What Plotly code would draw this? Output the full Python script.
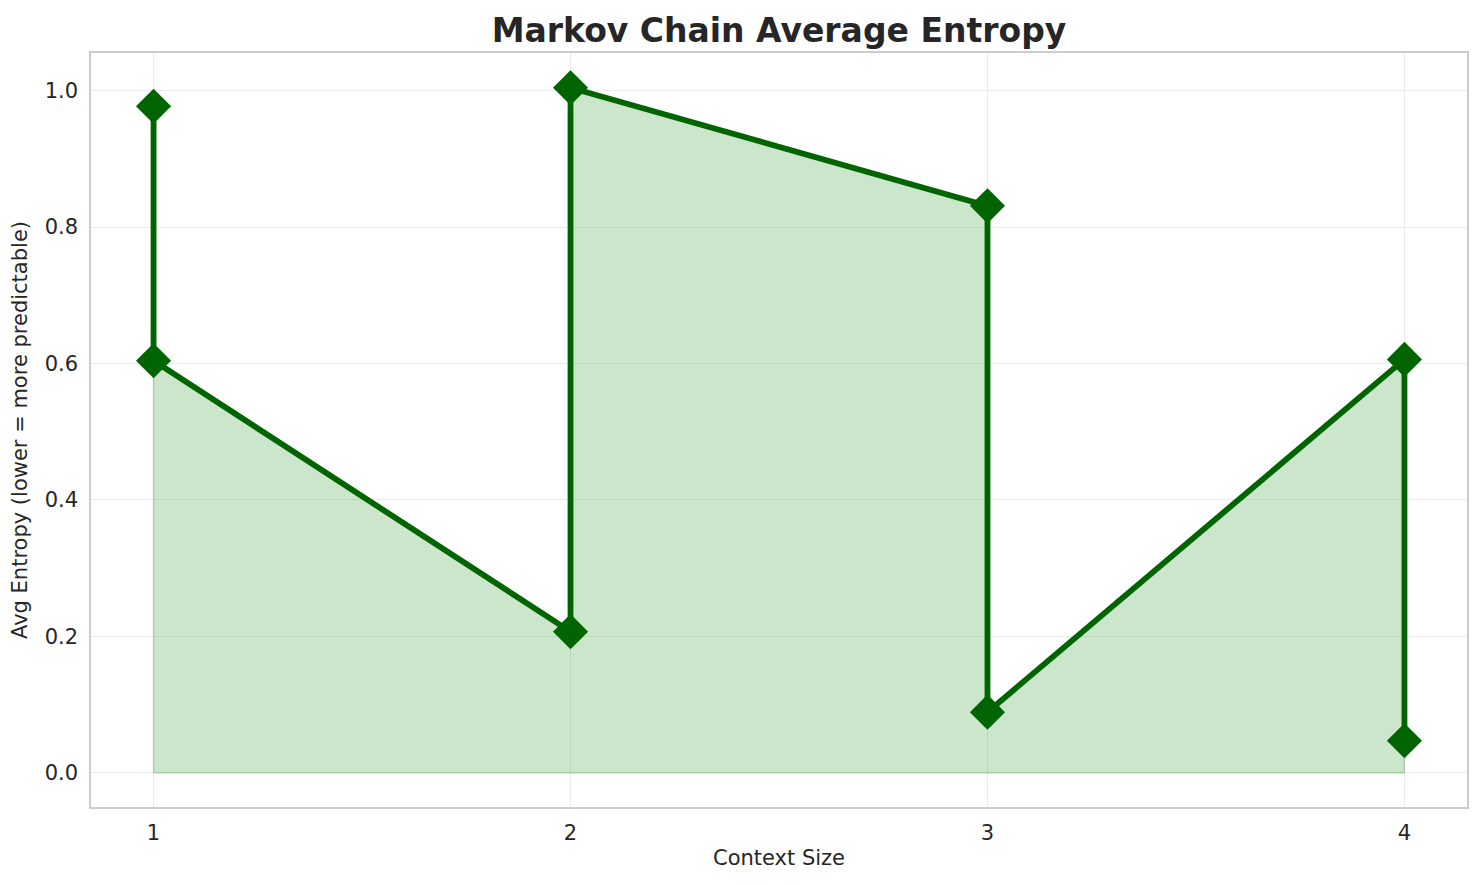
import plotly.graph_objects as go

# Данные
context_size = [1, 1, 2, 2, 3, 3, 4, 4]
avg_entropy = [0.977, 0.604, 0.207, 1.004, 0.831, 0.089, 0.606, 0.047]
x_ticks = [1, 2, 3, 4]
y_ticks = [0.0, 0.2, 0.4, 0.6, 0.8, 1.0]

text_color = "#262626"
font = "DejaVu Sans"

# Полигон заливки до нуля
fill_x = [context_size[0]] + context_size + [context_size[-1], context_size[0]]
fill_y = [0] + avg_entropy + [0, 0]

fig = go.Figure()
fig.add_trace(go.Scatter(
    x=fill_x, y=fill_y,
    mode="lines",
    fill="toself",
    fillcolor="rgba(0,128,0,0.2)",
    line=dict(color="rgba(0,128,0,0.2)", width=1.5),
    hoverinfo="skip",
    showlegend=False,
))
fig.add_trace(go.Scatter(
    x=context_size, y=avg_entropy,
    mode="lines+markers",
    line=dict(color="#006400", width=5.8),
    marker=dict(symbol="diamond", size=27, color="#006400"),
    showlegend=False,
))

# страница имеет отступ body 8px, поэтому фигура чуть меньше окна
fig.update_layout(
    width=1468, height=869,
    margin=dict(l=83, r=7, t=45, b=70),
    plot_bgcolor="white",
    paper_bgcolor="white",
    font=dict(family=font, color=text_color, size=21),
    title=dict(
        text="<b>Markov Chain Average Entropy</b>",
        xref="paper", x=0.5, xanchor="center",
        y=1 - 22 / 869, yanchor="middle",
        font=dict(size=33, color=text_color),
    ),
)
fig.update_xaxes(
    range=[0.85, 4.15],
    tickvals=x_ticks,
    ticktext=[str(v) for v in x_ticks],
    showgrid=True, gridcolor="#ebebeb", gridwidth=1.2,
    zeroline=False,
    showline=True, linecolor="#cccccc", linewidth=1.5, mirror=True,
    ticks="", ticklabelstandoff=6,
    title=dict(text="Context Size", font=dict(size=21), standoff=6),
)
fig.update_yaxes(
    range=[-0.05, 1.055],
    tickvals=y_ticks,
    ticktext=[f"{v:.1f}" for v in y_ticks],
    showgrid=True, gridcolor="#ebebeb", gridwidth=1.2,
    zeroline=False,
    showline=True, linecolor="#cccccc", linewidth=1.5, mirror=True,
    ticks="", ticklabelstandoff=7,
    title=dict(text="Avg Entropy (lower = more predictable)", font=dict(size=21), standoff=12),
)

fig.write_html("out.html")
